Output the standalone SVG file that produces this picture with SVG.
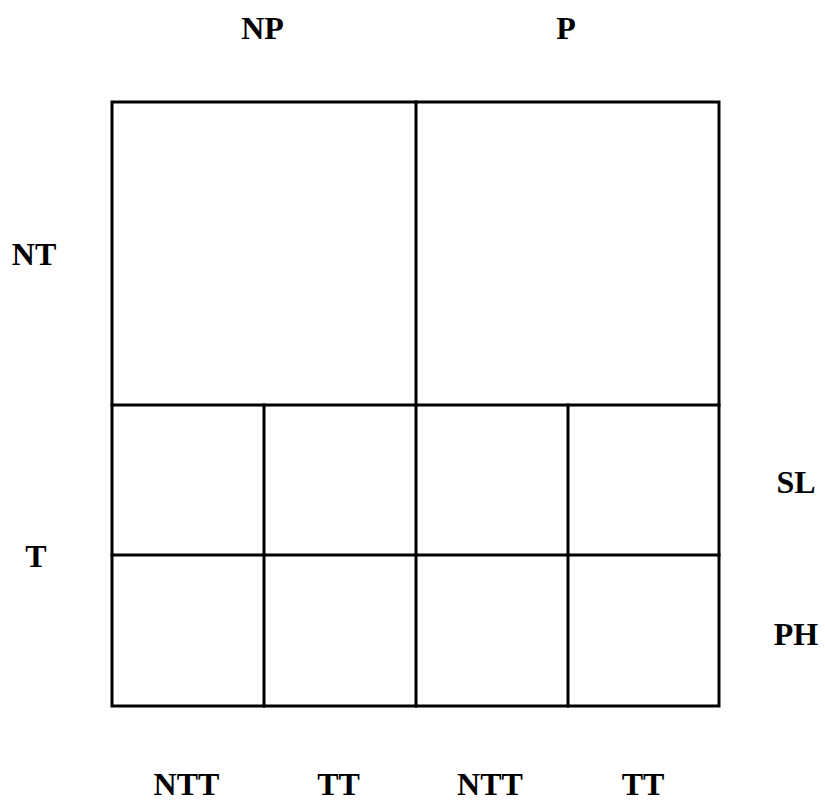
<svg xmlns="http://www.w3.org/2000/svg" width="825" height="803" viewBox="0 0 825 803">
<style>
.g { fill: none; stroke: #000; stroke-width: 3; stroke-linecap: square; }
.t { font-family: "Liberation Serif", "DejaVu Serif", serif; font-weight: bold; font-size: 32px; fill: #000; text-anchor: middle; }
</style>
<rect width="825" height="803" fill="#fff"/>
<g id="grid">
  <rect id="outer" class="g" x="112" y="102" width="607" height="604"/>
  <line class="g" x1="416" y1="102" x2="416" y2="706"/>
  <line class="g" x1="112" y1="405" x2="719" y2="405"/>
  <line class="g" x1="112" y1="555" x2="719" y2="555"/>
  <line class="g" x1="264" y1="405" x2="264" y2="706"/>
  <line class="g" x1="568" y1="405" x2="568" y2="706"/>
</g>
<g id="labels">
  <text id="NP" class="t" x="262.5" y="39">NP</text>
  <text id="P" class="t" x="566" y="39">P</text>
  <text id="NT" class="t" x="34" y="265">NT</text>
  <text id="T" class="t" x="36" y="567">T</text>
  <text id="SL" class="t" x="796" y="493">SL</text>
  <text id="PH" class="t" x="796" y="645">PH</text>
  <text id="NTT1" class="t" x="186.5" y="795">NTT</text>
  <text id="TT1" class="t" x="338.5" y="795">TT</text>
  <text id="NTT2" class="t" x="490" y="795">NTT</text>
  <text id="TT2" class="t" x="643" y="795">TT</text>
</g>
</svg>
